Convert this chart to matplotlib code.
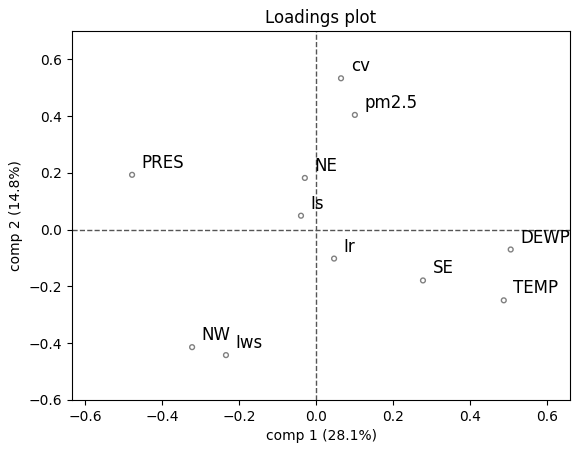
import matplotlib
matplotlib.use("Agg")
import matplotlib.pyplot as plt

names = ["cv", "pm2.5", "PRES", "NE", "Is", "Ir", "SE", "DEWP", "TEMP", "NW", "Iws"]
comp1 = [0.065, 0.101, -0.478, -0.029, -0.039, 0.047, 0.278, 0.506, 0.488, -0.322, -0.234]
comp2 = [0.533, 0.404, 0.193, 0.182, 0.049, -0.102, -0.179, -0.070, -0.249, -0.414, -0.442]

fig = plt.figure(figsize=(5.81, 4.54), dpi=100)
ax = fig.add_axes([0.124, 0.119, 0.857, 0.813])
ax.scatter(comp1, comp2, s=12, facecolors="none", edgecolors="gray", linewidths=1)
for n, x, y in zip(names, comp1, comp2):
    ax.annotate(n, (x, y), xytext=(7, 5), textcoords="offset points", fontsize=12)
ax.axhline(0, color="#555555", ls="--", lw=1)
ax.axvline(0, color="#555555", ls="--", lw=1)
ax.set_xlim(-0.634, 0.66)
ax.set_ylim(-0.6, 0.7)
ax.set_xticks([-0.6, -0.4, -0.2, 0.0, 0.2, 0.4, 0.6])
ax.set_yticks([-0.6, -0.4, -0.2, 0.0, 0.2, 0.4, 0.6])
ax.set_xlabel("comp 1 (28.1%)")
ax.set_ylabel("comp 2 (14.8%)")
ax.set_title("Loadings plot")
fig.savefig("out.png", dpi=100)
